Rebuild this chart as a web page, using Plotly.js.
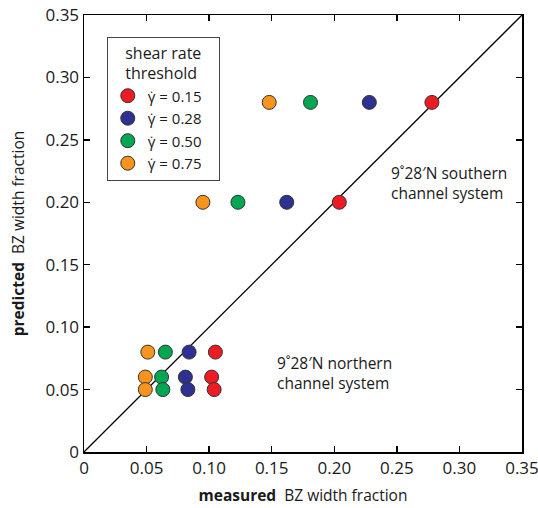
<!DOCTYPE html>
<html>
<head>
<meta charset="utf-8">
<script src="https://cdn.plot.ly/plotly-3.0.1.min.js"></script>
<style>html,body{margin:0;padding:0;background:#fff}</style>
</head>
<body>
<div id="chart" style="width:538px;height:508px"></div>
<script>
// Data
const seriesNames = ["\u03b3\u0307 = 0.15", "\u03b3\u0307 = 0.28", "\u03b3\u0307 = 0.50", "\u03b3\u0307 = 0.75"];
const seriesColors = ["#ED1C24", "#2E3192", "#00A651", "#F7941D"];
const predicted = [0.28, 0.20, 0.08, 0.06, 0.05];
const measured015 = [0.278, 0.204, 0.105, 0.102, 0.104];
const measured028 = [0.228, 0.162, 0.084, 0.081, 0.083];
const measured050 = [0.181, 0.123, 0.065, 0.062, 0.063];
const measured075 = [0.148, 0.095, 0.051, 0.049, 0.049];
const oneToOne = [0, 0.35];
const tickVals = [0, 0.05, 0.10, 0.15, 0.20, 0.25, 0.30, 0.35];
const tickText = ["0", "0.05", "0.10", "0.15", "0.20", "0.25", "0.30", "0.35"];

const measuredAll = [measured015, measured028, measured050, measured075];
const FONT = "Open Sans, Noto Sans, sans-serif";

const traces = [{
  x: oneToOne, y: oneToOne, mode: "lines", type: "scatter",
  line: {color: "#000", width: 1.3}, showlegend: false, hoverinfo: "skip"
}];
measuredAll.forEach((m, i) => {
  traces.push({
    x: m, y: predicted, mode: "markers", type: "scatter",
    name: seriesNames[i] + "\u00a0\u00a0\u00a0",
    marker: {color: seriesColors[i], size: 14, line: {color: "#333", width: 1}}
  });
});

const axisCommon = {
  range: [0, 0.35], tickvals: tickVals, ticktext: tickText,
  ticks: "inside", ticklen: 6, tickwidth: 1.3, tickcolor: "#000",
  showline: true, linecolor: "#000", linewidth: 1.5, mirror: "ticks",
  showgrid: false, zeroline: false, ticklabeloverflow: "allow",
  tickfont: {family: FONT, size: 17, color: "#1a1a1a"}
};

const layout = {
  width: 538, height: 508,
  margin: {l: 84, r: 16, t: 15, b: 56},
  paper_bgcolor: "#fff", plot_bgcolor: "#fff",
  font: {family: FONT, color: "#1a1a1a"},
  xaxis: Object.assign({}, axisCommon, {
    title: {text: "<b>measured</b>\u00a0\u00a0BZ width fraction", font: {family: FONT, size: 15.5, color: "#1a1a1a"}, standoff: 12}
  }),
  yaxis: Object.assign({}, axisCommon, {
    title: {text: "<b>predicted</b>\u00a0\u00a0BZ width fraction", font: {family: FONT, size: 15.5, color: "#1a1a1a"}, standoff: 17}
  }),
  showlegend: true,
  legend: {
    x: 0.052, y: 0.95, xanchor: "left", yanchor: "top",
    bordercolor: "#444", borderwidth: 1, bgcolor: "#fff",
    font: {family: FONT, size: 15, color: "#1a1a1a"},
    title: {text: "shear rate<br>threshold", side: "top center", font: {family: FONT, size: 16, color: "#1a1a1a"}},
    itemsizing: "trace", tracegroupgap: 0
  },
  annotations: [
    {xref: "paper", yref: "paper", x: (389-84)/438, y: (452-159)/438, xanchor: "left", yanchor: "top",
     text: "9\u02da28\u2032N southern<br>channel system", showarrow: false, align: "left",
     font: {family: FONT, size: 15.5, color: "#1a1a1a"}},
    {xref: "paper", yref: "paper", x: (275-84)/438, y: (452-350)/438, xanchor: "left", yanchor: "top",
     text: "9\u02da28\u2032N northern<br>channel system", showarrow: false, align: "left",
     font: {family: FONT, size: 15.5, color: "#1a1a1a"}}
  ]
};

Plotly.newPlot("chart", traces, layout, {displayModeBar: false, staticPlot: true});
</script>
</body>
</html>
